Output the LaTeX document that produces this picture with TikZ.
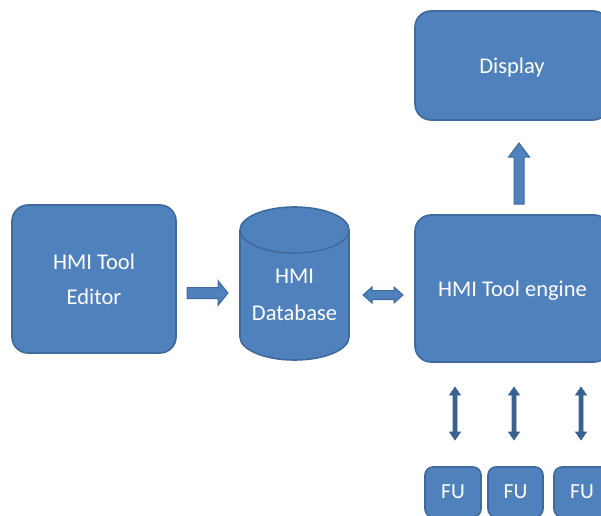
\documentclass[tikz,border=0pt]{standalone}
\usepackage{fontspec}
\setmainfont{Carlito}
\definecolor{boxfill}{HTML}{4F81BD}
\definecolor{boxline}{HTML}{3F6A9B}
\definecolor{darkarrow}{HTML}{3A6291}
\begin{document}
\begin{tikzpicture}[x=1pt,y=1pt,
  box/.style={draw=boxline, fill=boxfill, line width=1.6pt, rounded corners=16pt,
    text=white, font=\fontsize{22.5}{35}\selectfont, align=center, inner sep=0pt},
  fubox/.style={box, rounded corners=8pt, minimum height=50pt, font=\fontsize{21.5}{24}\selectfont},
  blockarrow/.style={draw=boxline, fill=boxfill, line width=1pt, line join=miter},
  thinarrow/.style={draw=darkarrow, fill=darkarrow, line width=0.6pt, line join=miter},
  label/.style={text=white, font=\fontsize{22.5}{37}\selectfont, align=center}]
\useasboundingbox (0,0) rectangle (601,515);
\clip (0,0) rectangle (601,515);

% main blocks
\node[box, text depth=0pt, minimum width=194pt, minimum height=109pt] (display) at (512,449.5) {Display};
\node[box, text depth=0pt, minimum width=195pt, minimum height=147pt] (engine) at (512.5,226.5) {HMI Tool engine};
\node[box, minimum width=164pt, minimum height=148pt] (editor) at (94,236) {HMI Tool\\Editor};

% database cylinder
\path[draw=boxline, fill=boxfill, line width=1.6pt]
  (240,285) -- (240,178) arc[start angle=180, end angle=360, x radius=54.5pt, y radius=23pt]
  -- (349,285) arc[start angle=0, end angle=180, x radius=54.5pt, y radius=23pt] -- cycle;
\draw[boxline, line width=1.6pt]
  (240,285) arc[start angle=180, end angle=360, x radius=54.5pt, y radius=23pt];
\node[label] (db) at (294.5,220) {HMI\\Database};

% functional units
\node[fubox, minimum width=56pt] (fu1) at (453,23) {FU};
\node[fubox, minimum width=55pt] (fu2) at (515.5,23) {FU};
\node[fubox, minimum width=56pt] (fu3) at (582,23) {FU};

% editor -> database
\coordinate (ra1) at (187,222);
\coordinate (ra2) at (228,222);
\draw[blockarrow] (ra1) ++(0,5.5) -- ++(31,0) -- ++(0,7) -- (ra2)
  -- ++(-10,-12.5) -- ++(0,7) -- ++(-31,0) -- cycle;

% database <-> engine
\coordinate (da1) at (363,220);
\coordinate (da2) at (403,220);
\draw[blockarrow] (da1) -- ++(9,8) -- ++(0,-3.5) -- ++(22,0) -- ++(0,3.5) -- (da2)
  -- ++(-9,-8) -- ++(0,3.5) -- ++(-22,0) -- ++(0,-3.5) -- cycle;

% engine -> display
\coordinate (ua1) at (519,311);
\coordinate (ua2) at (519,372);
\draw[blockarrow] (ua1) ++(-5,0) -- ++(0,47) -- ++(-5.5,0) -- (ua2)
  -- ++(10.5,-14) -- ++(-5.5,0) -- ++(0,-47) -- cycle;

% engine <-> functional units
\foreach \i/\x in {1/455, 2/514, 3/581} {
  \coordinate (vt\i) at (\x,128);
  \coordinate (vb\i) at (\x,75);
  \draw[thinarrow] (vt\i) -- ++(5.5,-8) -- ++(-3.5,0) -- ++(0,-37) -- ++(3.5,0) -- (vb\i)
    -- ++(-5.5,8) -- ++(3.5,0) -- ++(0,37) -- ++(-3.5,0) -- cycle;
}
\end{tikzpicture}
\end{document}
